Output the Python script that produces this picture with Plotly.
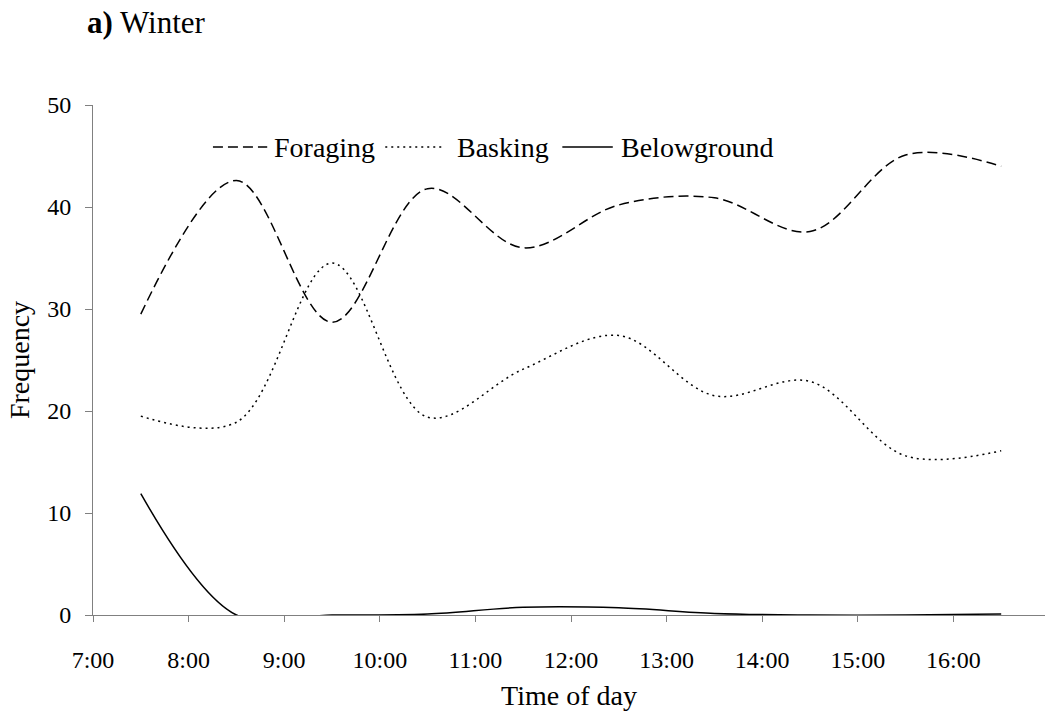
import plotly.graph_objects as go

# Observation times (hours after midnight, mid-point of each hourly block)
hours = [7.5, 8.5, 9.5, 10.5, 11.5, 12.5, 13.5, 14.5, 15.5, 16.5]

# Frequency of each behaviour per time block
foraging = [29.5, 42.6, 28.7, 41.8, 36.0, 40.2, 40.9, 37.6, 45.1, 44.0]
basking = [19.5, 18.9, 34.5, 19.4, 24.1, 27.4, 21.5, 22.9, 15.6, 16.1]
belowground = [11.9, 0.0, 0.0, 0.1, 0.75, 0.7, 0.15, 0.0, 0.0, 0.1]

# Hour ticks on the time axis
tick_hours = [7, 8, 9, 10, 11, 12, 13, 14, 15, 16]
tick_labels = ["7:00", "8:00", "9:00", "10:00", "11:00", "12:00",
               "13:00", "14:00", "15:00", "16:00"]

FONT = "Liberation Serif, Times New Roman, serif"

# name, values, dash pattern, legend key span (paper x), legend text x
series = [
    ("Foraging", foraging, "10px,5px", (0.126, 0.183), 0.188),
    ("Basking", basking, "2px,4px", (0.307, 0.370), 0.380),
    ("Belowground", belowground, "solid", (0.493, 0.546), 0.553),
]
LEGEND_Y = 0.9176

fig = go.Figure()
shapes, annotations = [], []
for name, values, dash, (k0, k1), tx in series:
    fig.add_trace(go.Scatter(
        x=hours, y=values, name=name, mode="lines", showlegend=False,
        line=dict(color="black", width=1.5, dash=dash,
                  shape="spline", smoothing=1.0),
    ))
    # legend key and label drawn inside the plot area
    shapes.append(dict(type="line", xref="paper", yref="paper",
                       x0=k0, x1=k1, y0=LEGEND_Y, y1=LEGEND_Y,
                       line=dict(color="black", width=1.5, dash=dash)))
    annotations.append(dict(text=name, xref="paper", yref="paper",
                            x=tx, y=LEGEND_Y, xanchor="left",
                            yanchor="middle", showarrow=False,
                            font=dict(family=FONT, size=28)))

fig.update_layout(
    width=1045, height=711,
    margin=dict(l=93, r=0, t=105, b=96),
    paper_bgcolor="white", plot_bgcolor="white",
    font=dict(family=FONT, size=24, color="black"),
    title=dict(text="<b>a)</b> Winter", x=87 / 1045, xref="container",
               xanchor="left", y=1 - 22 / 711, yref="container",
               yanchor="middle", font=dict(family=FONT, size=31)),
    showlegend=False,
    shapes=shapes,
    annotations=annotations,
    xaxis=dict(range=[7, 7 + (1045 - 93) / 95.6], tickmode="array",
               tickvals=tick_hours, ticktext=tick_labels,
               showgrid=False, zeroline=False, showline=True,
               linecolor="#808080", linewidth=1, ticks="outside",
               ticklen=6, tickcolor="#808080", ticklabelstandoff=17,
               automargin=False,
               title=dict(text="Time of day", standoff=13,
                          font=dict(family=FONT, size=28))),
    yaxis=dict(range=[0, 50], tickvals=[0, 10, 20, 30, 40, 50],
               showgrid=False, zeroline=False, showline=True,
               linecolor="#808080", linewidth=1, ticks="outside",
               ticklen=7, tickcolor="#808080", ticklabelstandoff=9,
               automargin=False,
               title=dict(text="Frequency", standoff=9,
                          font=dict(family=FONT, size=28))),
)

fig.write_html("out.html")
